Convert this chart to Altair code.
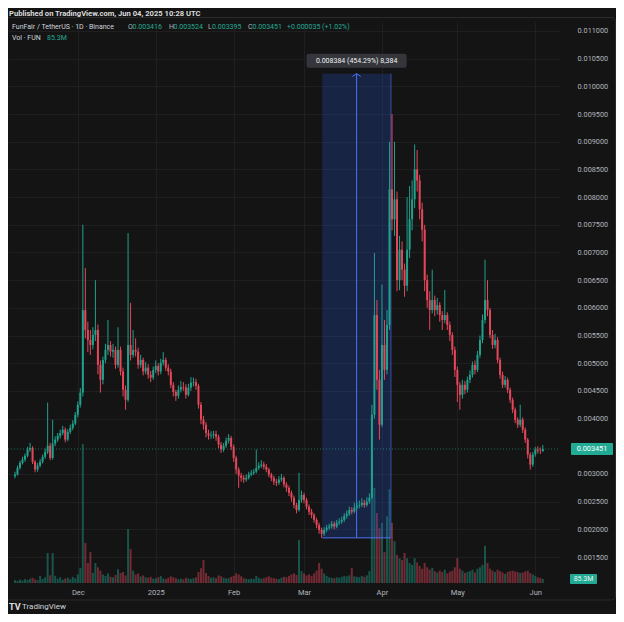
import altair as alt
import pandas as pd

# ---------------- data (prices in units of 1e-5 USDT, volume in millions) ----------------
START_DATE = "2024-11-06"
FIRST_OPEN_E5 = 296

CLOSE_E5 = [
    299, 311, 320, 326, 333, 344, 347, 322, 308, 315,
    322, 331, 340, 351, 329, 355, 362, 369, 374, 380,
    362, 376, 383, 391, 407, 425, 447, 596, 560, 542,
    533, 551, 560, 497, 470, 506, 524, 533, 521, 524,
    497, 524, 485, 452, 434, 533, 515, 524, 521, 497,
    506, 485, 492, 479, 474, 488, 495, 485, 501, 506,
    492, 485, 461, 448, 441, 452, 457, 456, 443, 456,
    465, 466, 459, 425, 398, 389, 374, 369, 370, 372,
    367, 353, 344, 351, 360, 365, 349, 329, 308, 297,
    293, 290, 293, 299, 302, 304, 311, 315, 317, 313,
    308, 299, 293, 286, 284, 290, 293, 281, 275, 266,
    257, 244, 235, 253, 262, 253, 241, 232, 226, 217,
    208, 199, 192, 199, 203, 205, 210, 205, 212, 214,
    217, 224, 228, 235, 232, 239, 243, 244, 248, 244,
    250, 257, 407, 587, 470, 389, 533, 488, 569, 814,
    760, 796, 650, 705, 669, 640, 705, 760, 796, 850,
    830, 778, 741, 650, 614, 596, 614, 596, 605, 587,
    578, 587, 569, 551, 524, 488, 461, 443, 461, 452,
    470, 479, 497, 488, 515, 542, 578, 614, 596, 551,
    533, 542, 506, 479, 461, 470, 452, 434, 416, 398,
    389, 398, 380, 362, 335, 317, 335, 344, 342, 341.6,
    345.1,
]

HIGH_E5 = [
    304, 315, 324, 331, 337, 349, 356, 350, 325, 320,
    327, 335, 346, 429, 356, 398, 368, 374, 380, 387,
    384, 381, 389, 397, 412, 431, 455, 750, 672, 575,
    560, 565, 650, 570, 505, 512, 535, 578, 540, 535,
    530, 565, 530, 492, 460, 735, 609, 560, 545, 528,
    515, 510, 502, 498, 486, 494, 505, 500, 508, 520,
    510, 498, 490, 466, 452, 460, 468, 466, 462, 463,
    475, 474, 472, 463, 430, 405, 394, 380, 377, 378,
    378, 371, 358, 356, 366, 372, 369, 353, 333, 312,
    302, 298, 299, 304, 307, 309, 344, 321, 325, 322,
    318, 311, 302, 297, 291, 296, 300, 296, 285, 279,
    270, 261, 248, 302, 270, 266, 257, 245, 237, 229,
    221, 212, 203, 204, 208, 210, 215, 214, 217, 220,
    223, 229, 234, 241, 240, 248, 250, 252, 256, 253,
    258, 265, 425, 699, 614, 488, 642, 578, 596, 900,
    950, 900, 810, 730, 720, 680, 800, 820, 830, 895,
    885, 840, 790, 750, 660, 630, 669, 622, 618, 610,
    594, 632, 592, 575, 556, 530, 494, 466, 470, 468,
    476, 487, 503, 505, 522, 550, 588, 687, 650, 600,
    560, 553, 547, 510, 485, 477, 474, 456, 438, 420,
    402, 425, 402, 384, 365, 339, 340, 349, 350, 348,
    352.4,
]

LOW_E5 = [
    292, 297, 308, 317, 322, 330, 340, 318, 303, 304,
    312, 319, 327, 336, 325, 326, 350, 358, 364, 370,
    357, 359, 372, 379, 388, 402, 420, 440, 545, 520,
    515, 525, 540, 480, 447, 462, 500, 515, 512, 510,
    490, 492, 478, 440, 416, 430, 505, 510, 512, 490,
    492, 478, 480, 472, 466, 470, 482, 478, 480, 496,
    486, 478, 455, 440, 432, 436, 447, 450, 436, 440,
    450, 458, 452, 418, 390, 380, 366, 362, 363, 364,
    360, 346, 338, 340, 347, 355, 343, 322, 300, 275,
    286, 284, 286, 290, 296, 298, 301, 307, 311, 308,
    303, 294, 287, 280, 278, 280, 286, 276, 268, 260,
    250, 238, 229, 232, 248, 247, 236, 226, 220, 212,
    202, 192, 184.6, 188, 195, 199, 201, 200, 202, 208,
    210, 213, 219, 224, 227, 229, 235, 238, 240, 239,
    241, 246, 255, 400, 452, 362, 385, 470, 480, 560,
    740, 730, 630, 632, 650, 620, 630, 690, 740, 780,
    810, 760, 720, 630, 600, 560, 590, 585, 588, 575,
    560, 572, 560, 540, 515, 475, 430, 416, 436, 444,
    447, 464, 474, 480, 484, 510, 536, 572, 585, 545,
    526, 527, 500, 472, 455, 456, 446, 428, 410, 392,
    383, 385, 374, 356, 328, 308, 313, 331, 337, 336,
    339.5,
]

VOLUME_M = [
    60, 45, 70, 55, 80, 65, 90, 110, 75, 60,
    150, 85, 120, 630, 160, 630, 150, 90, 120, 70,
    95, 110, 80, 130, 100, 180, 315, 2920, 840, 420,
    650, 210, 420, 330, 260, 180, 150, 200, 130, 120,
    170, 290, 210, 230, 160, 1130, 715, 260, 180, 200,
    140, 160, 120, 110, 130, 90, 100, 120, 150, 95,
    85, 110, 140, 120, 100, 80, 90, 75, 110, 95,
    85, 100, 120, 230, 310, 480, 210, 150, 110, 120,
    100, 160, 140, 110, 95, 100, 130, 150, 200, 180,
    140, 100, 90, 80, 95, 85, 150, 110, 90, 100,
    120, 140, 110, 100, 90, 80, 110, 130, 120, 150,
    180, 200, 170, 900, 250, 200, 160, 180, 150, 200,
    260, 420, 300, 200, 150, 120, 110, 100, 120, 110,
    130, 150, 140, 160, 315, 140, 130, 120, 150, 130,
    160, 250, 2625, 2000, 1470, 1150, 1260, 650, 1400, 1970,
    1260, 880, 590, 520, 480, 630, 520, 420, 380, 520,
    430, 360, 300, 420, 330, 280, 320, 250, 220, 260,
    230, 280, 200, 240, 260, 330, 525, 300, 260, 210,
    230, 250, 280, 220, 300, 330, 380, 780, 420, 300,
    260, 230, 280, 250, 220, 190, 230, 250, 260, 240,
    230, 210, 220, 240, 260, 210, 180, 150, 120, 110,
    85.3,
]

MONTH_TICKS = ["2024-12-01", "2025-01-01", "2025-02-01", "2025-03-01",
               "2025-04-01", "2025-05-01", "2025-06-01"]
PRICE_TICKS = [0.0015, 0.002, 0.0025, 0.003, 0.004, 0.0045, 0.005,
               0.0055, 0.006, 0.0065, 0.007, 0.0075, 0.008, 0.0085, 0.009,
               0.0095, 0.01, 0.0105, 0.011]

# date & price range tool
RANGE_START = "2025-03-08T06:00"
RANGE_END = "2025-04-04T14:00"
RANGE_LOW = 0.001846
RANGE_HIGH = 0.01023
RANGE_LABEL = "0.008384 (454.29%) 8,384"

HEADER = "Published on TradingView.com, Jun 04, 2025 10:28 UTC"
SYMBOL = "FunFair / TetherUS · 1D · Binance"
VOL_TITLE = "Vol · FUN"

# ---------------- styling ----------------
FONT = "Roboto"
BG = "#141414"
GRID = "#1f1f1f"
AXIS_TXT = "#b2b5be"
UP = "#1fa18c"
DOWN = "#e5475a"
TEAL = "#22ab94"
RANGE_BLUE = "#2962ff"
RANGE_LINE = "#4f72f5"


def ms(s):
    return int(pd.Timestamp(s, tz="UTC").value // 1_000_000)


DAY = 86_400_000
dates = pd.date_range(START_DATE, periods=len(CLOSE_E5), freq="D", tz="UTC")
t = [int(v // 1_000_000) for v in dates.asi8]
close = [c * 1e-5 for c in CLOSE_E5]
high = [h * 1e-5 for h in HIGH_E5]
low = [l * 1e-5 for l in LOW_E5]
open_ = [FIRST_OPEN_E5 * 1e-5] + close[:-1]

df = pd.DataFrame({"t": t, "o": open_, "h": high, "l": low, "c": close, "v": VOLUME_M})
df["dir"] = ["up" if c >= o else "down" for o, c in zip(open_, close)]

t0 = ms(START_DATE)
X_DOMAIN = [t0 - 0.78 * DAY, t0 + 214.845 * DAY]
P_DOMAIN = [0.0010307, 0.0111625]
V_DOMAIN = [0, 11781]

W, H = 552, 561

xscale = alt.Scale(type="utc", domain=X_DOMAIN, nice=False)
xaxis = alt.Axis(
    values=[ms(m) for m in MONTH_TICKS],
    labelExpr="utcFormat(datum.value, '%m') == '01' ? utcFormat(datum.value, '%Y') : utcFormat(datum.value, '%b')",
    title=None, grid=True, gridColor=GRID, domain=False, ticks=False,
    labelColor=AXIS_TXT, labelFontSize=7.5, labelFont=FONT, labelPadding=5,
    labelOverlap=False,
)
yscale = alt.Scale(domain=P_DOMAIN, nice=False, zero=False)
yaxis = alt.Axis(
    orient="right", values=PRICE_TICKS, format=".6f", title=None,
    grid=True, gridColor=GRID, domain=False, ticks=False, tickSize=0,
    labelColor=AXIS_TXT, labelFontSize=7.3, labelFont=FONT, labelPadding=17,
    labelOverlap=False,
)
vscale = alt.Scale(domain=V_DOMAIN, nice=False, zero=True)

X = alt.X("t:T", scale=xscale, axis=xaxis)
COLOR = alt.Color("dir:N", scale=alt.Scale(domain=["up", "down"], range=[UP, DOWN]), legend=None)
Y = lambda f: alt.Y(f, scale=yscale, axis=yaxis)

# volume group (independent y)
vol_bars = alt.Chart(df).mark_bar(size=2, opacity=0.45).encode(
    x=X, y=alt.Y("v:Q", scale=vscale, axis=None), color=COLOR)
last_vol = pd.DataFrame({"v": [VOLUME_M[-1]], "lab": [f"{VOLUME_M[-1]:.1f}M"]})
vol_tag = alt.Chart(last_vol).mark_rect(color=TEAL, yOffset=-5, y2Offset=5, cornerRadius=1).encode(
    x=alt.value(562), x2=alt.value(589),
    y=alt.Y("v:Q", scale=vscale, axis=None), y2="v:Q")
vol_tag_txt = alt.Chart(last_vol).mark_text(color="#e8f5f2", fontSize=7, font=FONT, baseline="middle").encode(
    x=alt.value(575.5), y=alt.Y("v:Q", scale=vscale, axis=None), text="lab:N")
vol_group = alt.layer(vol_bars, vol_tag, vol_tag_txt)

# range tool
mdf = pd.DataFrame({
    "t1": [ms(RANGE_START)], "t2": [ms(RANGE_END)],
    "tm": [(ms(RANGE_START) + ms(RANGE_END)) / 2],
    "lo": [RANGE_LOW], "hi": [RANGE_HIGH], "lab": [RANGE_LABEL],
})
range_box = alt.Chart(mdf).mark_rect(color=RANGE_BLUE, opacity=0.2).encode(
    x=alt.X("t1:T", scale=xscale, axis=xaxis), x2="t2:T", y=Y("lo:Q"), y2="hi:Q")
range_right = alt.Chart(mdf).mark_rule(color=RANGE_LINE, strokeWidth=1, opacity=0.6).encode(
    x=alt.X("t2:T", scale=xscale, axis=xaxis), y=Y("lo:Q"), y2="hi:Q")
range_bottom = alt.Chart(mdf).mark_rule(color=RANGE_LINE, strokeWidth=1).encode(
    x=alt.X("t1:T", scale=xscale, axis=xaxis), x2="t2:T", y=Y("lo:Q"))
range_arrow = alt.Chart(mdf).mark_rule(color=RANGE_LINE, strokeWidth=1).encode(
    x=alt.X("tm:T", scale=xscale, axis=xaxis), y=Y("lo:Q"), y2="hi:Q")
range_head = alt.Chart(mdf).mark_point(shape="M-1,0.7L0,0L1,0.7", filled=False, size=70,
                                       color=RANGE_LINE, strokeWidth=1, opacity=1).encode(
    x=alt.X("tm:T", scale=xscale, axis=xaxis), y=Y("hi:Q"))
range_lbl_box = alt.Chart(mdf).mark_rect(color="#34363c", xOffset=-50, x2Offset=50,
                                         yOffset=-20, y2Offset=-6, cornerRadius=2).encode(
    x=alt.X("tm:T", scale=xscale, axis=xaxis), x2="tm:T", y=Y("hi:Q"), y2="hi:Q")
range_lbl = alt.Chart(mdf).mark_text(color="#f0f0f0", fontSize=7, font=FONT, dy=-13, baseline="middle").encode(
    x=alt.X("tm:T", scale=xscale, axis=xaxis), y=Y("hi:Q"), text="lab:N")

# candles
wicks = alt.Chart(df).mark_rule(strokeWidth=1).encode(x=X, y=Y("h:Q"), y2="l:Q", color=COLOR)
bodies = alt.Chart(df).mark_rule(strokeWidth=2).encode(x=X, y=Y("o:Q"), y2="c:Q", color=COLOR)

last = pd.DataFrame({"p": [close[-1]], "lab": [f"{close[-1]:.6f}"]})
last_line = alt.Chart(last).mark_rule(color=TEAL, strokeDash=[1, 2], opacity=0.6).encode(
    x=alt.value(0), x2=alt.value(W), y=Y("p:Q"))
price_tag = alt.Chart(last).mark_rect(color=TEAL, yOffset=-6, y2Offset=6, cornerRadius=1).encode(
    x=alt.value(563), x2=alt.value(605), y=Y("p:Q"), y2="p:Q")
price_tag_txt = alt.Chart(last).mark_text(color="#ffffff", fontSize=7.3, font=FONT, baseline="middle").encode(
    x=alt.value(584), y=Y("p:Q"), text="lab:N")

price_group = alt.layer(range_box, range_right, range_bottom, range_arrow, range_head,
                        wicks, bodies, last_line, range_lbl_box, range_lbl,
                        price_tag, price_tag_txt)


def label(text, x, y, color, size=7.0, weight="normal"):
    return alt.Chart(alt.Data(values=[{}])).mark_text(
        text=text, color=color, fontSize=size, fontWeight=weight, font=FONT,
        align="left", baseline="middle",
    ).encode(x=alt.value(x), y=alt.value(y))


pane = alt.Chart(alt.Data(values=[{}])).mark_rect(
    fillOpacity=0, stroke="#2b2b2b", strokeWidth=1, cornerRadius=4
).encode(x=alt.value(-2.5), x2=alt.value(607.5), y=alt.value(-4.5), y2=alt.value(578))

o_l, h_l, l_l, c_l = open_[-1], high[-1], low[-1], close[-1]
chg = c_l - o_l
texts = [
    label(HEADER, 1, -8.5, "#dcdcdc", 7.6, "bold"),
    label(SYMBOL, 4, 5, "#d1d4dc", 7.0),
    label("O", 120, 5, AXIS_TXT, 7.0), label(f"{o_l:.6f}", 124.5, 5, TEAL, 7.0),
    label("H", 161, 5, AXIS_TXT, 7.0), label(f"{h_l:.6f}", 165.5, 5, TEAL, 7.0),
    label("L", 200, 5, AXIS_TXT, 7.0), label(f"{l_l:.6f}", 204, 5, TEAL, 7.0),
    label("C", 240, 5, AXIS_TXT, 7.0), label(f"{c_l:.6f}", 244.5, 5, TEAL, 7.0),
    label(f"+{chg:.6f} (+{chg / o_l * 100:.2f}%)", 279, 5, TEAL, 7.0),
    label(VOL_TITLE, 4, 15.5, "#d1d4dc", 7.0), label(f"{VOLUME_M[-1]:.1f}M", 39, 15.5, TEAL, 7.0),
    label("TV", 1, 585, "#e0e0e0", 9, "bold"),
    label("TradingView", 14, 585, "#d1d4dc", 8.0),
]

chart = alt.layer(pane, vol_group, price_group, *texts).resolve_scale(y="independent").properties(
    width=W, height=H,
    padding={"left": 0, "top": 14, "right": 56, "bottom": 31},
    autosize=alt.AutoSizeParams(type="none"),
).configure(background=BG).configure_view(stroke=None)

chart.save("out.html", embed_options={"renderer": "svg", "actions": False})
